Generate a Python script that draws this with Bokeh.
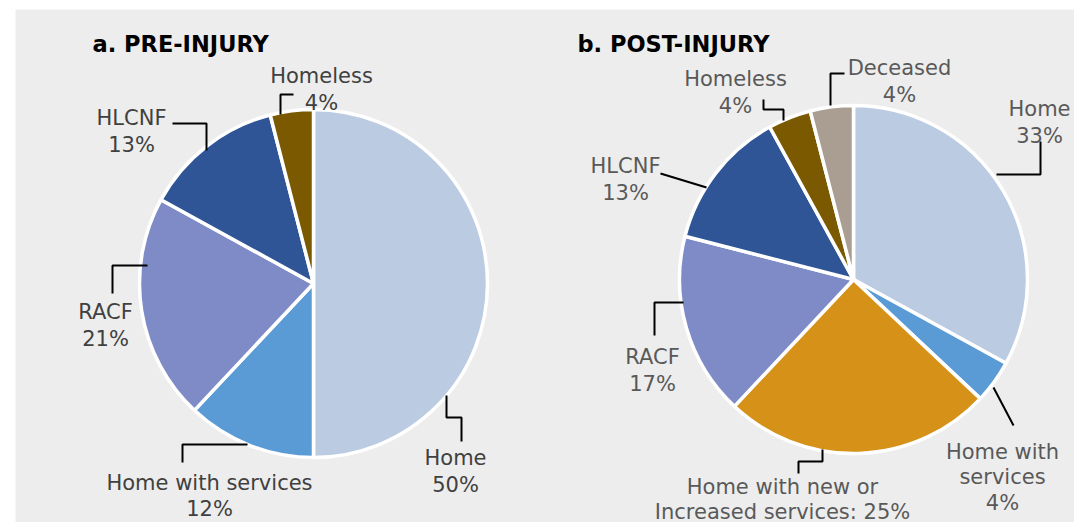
import math
from bokeh.plotting import figure
from bokeh.models import Range1d, ColumnDataSource
from bokeh.core.properties import value
from bokeh.embed import file_html
from bokeh.resources import INLINE

# ---------------- data ----------------
pre_categories = ["Home", "Home with services", "RACF", "HLCNF", "Homeless"]
pre_values = [50, 12, 21, 13, 4]

post_categories = ["Home", "Home with services", "Home with new or Increased services",
                   "RACF", "HLCNF", "Homeless", "Deceased"]
post_values = [33, 4, 25, 17, 13, 4, 4]

titles = ["a. PRE-INJURY", "b. POST-INJURY"]

# ---------------- styles ----------------
colors = {
    "Home": "#BBCBE2",
    "Home with services": "#5B9BD5",
    "Home with new or Increased services": "#D69118",
    "RACF": "#7F8BC6",
    "HLCNF": "#2F5597",
    "Homeless": "#7A5901",
    "Deceased": "#AA9D91",
}
FONT = value("DejaVu Sans")
W, H = 1074, 522
OX, OY = 0, 0          # page position of the figure's top-left corner
R = 174


def Y(py):
    # page pixel y -> data y (data y grows upward)
    return OY + H - py


# label layout: category -> (display name, separator, centre x, first baseline, line spacing)
pre_layout = {
    "Home": ("Home", "\n", 455, 457, 27),
    "Home with services": ("Home with services", "\n", 209, 482, 26.5),
    "RACF": ("RACF", "\n", 105, 311, 27),
    "HLCNF": ("HLCNF", "\n", 131, 117, 27),
    "Homeless": ("Homeless", "\n", 321, 75, 27),
}
post_layout = {
    "Home": ("Home", "\n", 1039, 108, 27),
    "Home with services": ("Home with\nservices", "\n", 1002, 451, 25.5),
    "Home with new or Increased services": ("Home with new or\nIncreased services", ": ", 782, 486, 25.5),
    "RACF": ("RACF", "\n", 652, 356, 27),
    "HLCNF": ("HLCNF", "\n", 625, 165, 27),
    "Homeless": ("Homeless", "\n", 735, 78, 27),
    "Deceased": ("Deceased", "\n", 899, 67, 27),
}
# leader line paths (page pixels)
pre_leaders = [
    [(446, 395), (446, 417), (461, 417), (461, 441)],
    [(247, 444), (182, 444), (182, 462)],
    [(147, 265), (112, 265), (112, 293)],
    [(172, 123), (206, 123), (206, 150)],
    [(280, 114), (280, 94), (293, 94)],
]
post_leaders = [
    [(996, 174), (1040, 174), (1040, 141)],
    [(993, 387), (1013, 425)],
    [(822, 449), (822, 461), (798, 461), (798, 473)],
    [(683, 302), (654, 302), (654, 335)],
    [(706, 187), (660, 173)],
    [(783, 120), (783, 109), (763, 109), (763, 99)],
    [(830, 105), (830, 73), (844, 73)],
]
pies = [
    (pre_categories, pre_values, pre_layout, pre_leaders, 313, 283, "#404040", 92),
    (post_categories, post_values, post_layout, post_leaders, 853, 279, "#595959", 577),
]

p = figure(width=W, height=H, x_range=Range1d(OX, OX + W), y_range=Range1d(Y(OY + H), Y(OY)),
           output_backend="svg", toolbar_location=None, min_border=0,
           x_axis_type=None, y_axis_type=None)
p.grid.visible = False
p.outline_line_color = None
p.background_fill_color = "white"
p.border_fill_color = "white"

# grey panel
p.quad(left=[15], right=[1100], bottom=[Y(560)], top=[Y(9)], fill_color="#EDEDED", line_color=None)

for idx, (cats, vals, layout, leaders, cx, cy, tcol, tx) in enumerate(pies):
    total = float(sum(vals))
    cum = 0.0
    starts, ends = [], []
    for v in vals:
        s = cum / total
        cum += v
        e = cum / total
        starts.append(math.pi / 2 - 2 * math.pi * e)
        ends.append(math.pi / 2 - 2 * math.pi * s)
    src = ColumnDataSource(dict(start=starts, end=ends, color=[colors[c] for c in cats]))
    p.wedge(x=cx, y=Y(cy), radius=R, start_angle="start", end_angle="end",
            fill_color="color", line_color="white", line_width=3.5, source=src)

    # leader lines
    xs = [[pt[0] for pt in path] for path in leaders]
    ys = [[Y(pt[1]) for pt in path] for path in leaders]
    p.multi_line(xs=xs, ys=ys, line_color="black", line_width=2)

    # labels
    lx, ly, lt = [], [], []
    for c, v in zip(cats, vals):
        name, sep, lcx, bl, sp = layout[c]
        label = f"{name}{sep}{v}%"
        for i, line in enumerate(label.split("\n")):
            lx.append(lcx)
            ly.append(Y(bl + i * sp))
            lt.append(line)
    p.text(x=lx, y=ly, text=lt, text_align="center", text_baseline="alphabetic",
           text_font=FONT, text_font_size="21px", text_color=tcol)

    # title
    p.text(x=[tx], y=[Y(43)], text=[titles[idx]], text_align="left", text_baseline="alphabetic",
           text_font=FONT, text_font_size="22.5px", text_font_style="bold", text_color="black")

open("out.html", "w").write(file_html(p, INLINE))
